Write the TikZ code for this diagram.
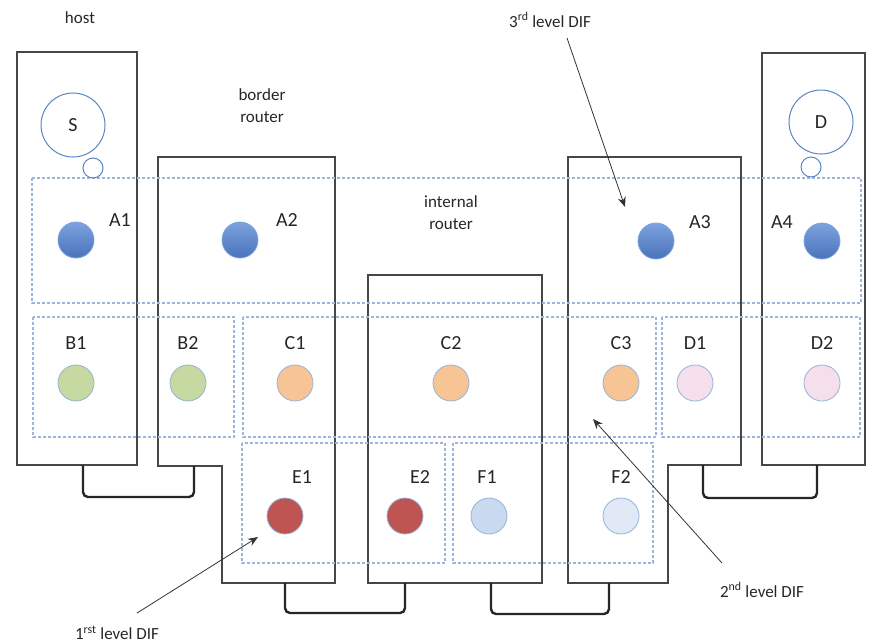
\documentclass[tikz,border=0pt]{standalone}
\usepackage{fontspec}
\setmainfont{Carlito}
\usetikzlibrary{arrows.meta}
\definecolor{dashblue}{HTML}{9DB5DD}
\definecolor{cborder}{HTML}{95B3D7}
\definecolor{bubble}{HTML}{5A85C4}
\definecolor{aTop}{HTML}{7CA2DE}
\definecolor{aBot}{HTML}{4A73BA}
\definecolor{bfill}{HTML}{C6D9A0}
\definecolor{cfill}{HTML}{F6C495}
\definecolor{dfill}{HTML}{F5DFEC}
\definecolor{efill}{HTML}{BF5552}
\definecolor{f1fill}{HTML}{C9DAF0}
\definecolor{f2fill}{HTML}{DFE8F4}
\begin{document}
\begin{tikzpicture}[x=1pt,y=-1pt]
\tikzset{
 router/.style={draw=black!72, line width=1.1pt},
 dif/.style={draw=dashblue, line width=1.1pt, dash pattern=on 3pt off 2pt},
 link/.style={draw=black!85, line width=2.4pt, rounded corners=5pt},
 ipcp/.style={circle, minimum size=36pt, inner sep=0pt, draw=cborder, line width=0.8pt},
 acirc/.style={ipcp, top color=aTop, bottom color=aBot, draw=aTop},
 lbl/.style={font=\fontsize{20}{22}\selectfont, text=black!85, inner sep=0pt},
 note/.style={font=\fontsize{17}{22}\selectfont, text=black!85, align=center, inner sep=0pt},
 bubblebig/.style={circle, draw=bubble, line width=1pt, minimum size=64pt, inner sep=0pt, font=\fontsize{20}{22}\selectfont, text=black!85},
 bubblesmall/.style={circle, draw=bubble, line width=1pt, minimum size=20pt, inner sep=0pt},
 pointer/.style={-{Stealth[length=10pt,width=8pt]}, line width=0.8pt, draw=black!80},
}
\useasboundingbox (0,0) rectangle (874,643);

% routers / hosts
\draw[router] (17,52) rectangle (137,465);
\draw[router] (158,157) -- (335,157) -- (335,583) -- (222,583) -- (222,466) -- (158,466) -- cycle;
\draw[router] (368,275) rectangle (542,583);
\draw[router] (568,157) -- (741,157) -- (741,465) -- (668,465) -- (668,583) -- (568,583) -- cycle;
\draw[router] (762,53) rectangle (865,465);

% links
\coordinate (l1a) at (83,465); \coordinate (l1b) at (194,466);
\coordinate (l2a) at (285,583); \coordinate (l2b) at (405,583);
\coordinate (l3a) at (491,583); \coordinate (l3b) at (609,583);
\coordinate (l4a) at (703,465); \coordinate (l4b) at (817,465);
\draw[link] (l1a) -- ++(0,32) -| (l1b);
\draw[link] (l2a) -- ++(0,30) -| (l2b);
\draw[link] (l3a) -- ++(0,31) -| (l3b);
\draw[link] (l4a) -- ++(0,33) -| (l4b);

% DIFs
\draw[dif] (32,178) rectangle (861,303);
\draw[dif] (33,317) rectangle (234,437);
\draw[dif] (243,317) rectangle (656,437);
\draw[dif] (662,317) rectangle (860,437);
\draw[dif] (242,443) rectangle (445,563);
\draw[dif] (453,443) rectangle (653,563);

% applications
\node[bubblebig] (S) at (73,125) {S};
\node[bubblesmall] (Ss) at (93,168) {};
\node[bubblebig] (D) at (821,122) {D};
\node[bubblesmall] (Ds) at (811,167) {};

% 3rd level
\node[acirc] (A1) at (76,240) {};
\node[lbl] (A1l) at (120,220) {A1};
\node[acirc] (A2) at (240,240) {};
\node[lbl] (A2l) at (287,220) {A2};
\node[acirc] (A3) at (656,241) {};
\node[lbl] (A3l) at (700,222) {A3};
\node[acirc] (A4) at (822,241) {};
\node[lbl] (A4l) at (782,222) {A4};

% 2nd level
\node[ipcp, fill=bfill] (B1) at (76,383) {};
\node[lbl] (B1l) at (76,343) {B1};
\node[ipcp, fill=bfill] (B2) at (188,383) {};
\node[lbl] (B2l) at (188,343) {B2};
\node[ipcp, fill=cfill] (C1) at (295,383) {};
\node[lbl] (C1l) at (295,343) {C1};
\node[ipcp, fill=cfill] (C2) at (451,383) {};
\node[lbl] (C2l) at (451,343) {C2};
\node[ipcp, fill=cfill] (C3) at (621,383) {};
\node[lbl] (C3l) at (621,343) {C3};
\node[ipcp, fill=dfill] (D1) at (695,383) {};
\node[lbl] (D1l) at (695,343) {D1};
\node[ipcp, fill=dfill] (D2) at (822,383) {};
\node[lbl] (D2l) at (822,343) {D2};

% 1st level
\node[ipcp, fill=efill] (E1) at (285,516) {};
\node[lbl] (E1l) at (302,477) {E1};
\node[ipcp, fill=efill] (E2) at (405,516) {};
\node[lbl] (E2l) at (420,477) {E2};
\node[ipcp, fill=f1fill] (F1) at (489,516) {};
\node[lbl] (F1l) at (487,477) {F1};
\node[ipcp, fill=f2fill] (F2) at (621,516) {};
\node[lbl] (F2l) at (621,477) {F2};

% captions
\node[note] (host) at (80,18) {host};
\node[note] (border) at (262,106) {border\\router};
\node[note] (internal) at (451,213) {internal\\router};
\node[note] (n3) at (550,20) {3\textsuperscript{rd} level DIF};
\node[note] (n2) at (762,590) {2\textsuperscript{nd} level DIF};
\node[note] (n1) at (117,633) {1\textsuperscript{rst} level DIF};

% pointers
\coordinate (p3s) at (567,38); \coordinate (p3e) at (625,207);
\coordinate (p2s) at (722,563); \coordinate (p2e) at (593,419);
\coordinate (p1s) at (137,613); \coordinate (p1e) at (258,537);
\draw[pointer] (p3s) -- (p3e);
\draw[pointer] (p2s) -- (p2e);
\draw[pointer] (p1s) -- (p1e);
\end{tikzpicture}
\end{document}
